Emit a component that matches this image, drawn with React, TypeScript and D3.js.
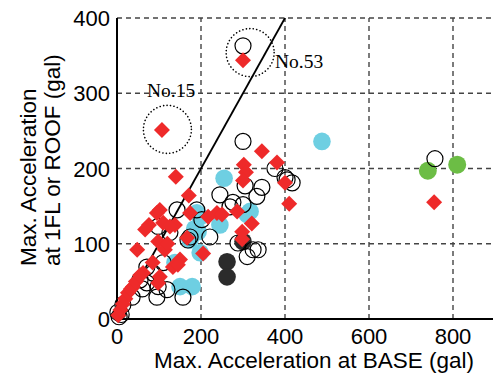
import React from "react";
import * as d3 from "d3";

const xTicks = [0, 200, 400, 600, 800];
const yTicks = [0, 100, 200, 300, 400];

const redDiamonds: [number, number][] = [
  [107, 251], [300, 344], [345, 223], [381, 208], [400, 181], [410, 153], [755, 155],
  [302, 205], [307, 195], [300, 184], [286, 143], [238, 141], [321, 127], [298, 116], [298, 106],
  [140, 189], [171, 164], [102, 145], [76, 125], [110, 128], [138, 125], [174, 141], [217, 136], [250, 139],
  [205, 87], [95, 141], [67, 119], [48, 92], [98, 103], [126, 123], [167, 108], [150, 79], [133, 69],
  [102, 56], [62, 61], [98, 48], [38, 43], [114, 92], [145, 72],
  [3, 5], [8, 12], [14, 20], [20, 27], [26, 35], [33, 40], [45, 50], [55, 58], [85, 75], [120, 100],
];

const openCircles: [number, number][] = [
  [300, 363], [300, 236], [376, 200], [405, 185], [417, 181], [345, 175], [305, 177], [245, 165],
  [269, 149], [300, 152], [336, 92], [310, 83], [757, 213], [276, 155], [333, 163], [400, 188],
  [288, 101], [324, 92], [143, 145], [98, 123], [126, 115], [174, 109], [71, 69], [86, 61], [55, 52],
  [71, 48], [98, 43], [119, 39], [157, 29], [36, 29], [14, 19], [2, 9], [169, 105], [202, 132],
  [190, 145], [221, 109], [95, 29], [60, 40], [110, 75], [5, 3], [10, 6],
];

const cyanCircles: [number, number][] = [
  [488, 236], [255, 187], [245, 125], [310, 139], [190, 141], [193, 116], [174, 105], [179, 43],
  [150, 43], [138, 75], [198, 136], [317, 143], [198, 88], [185, 120],
];

const blackCircles: [number, number][] = [[300, 103], [262, 76], [262, 56]];
const greenCircles: [number, number][] = [[740, 197], [810, 205]];

const annotations = [
  { label: "No.15", cx: 120, cy: 252, tx: 147, ty: 97 },
  { label: "No.53", cx: 317, cy: 354, tx: 275, ty: 68 },
];

export default function App() {
  const W = 493, H = 374;
  const x = d3.scaleLinear().domain([0, 900]).range([117, 495]);
  const y = d3.scaleLinear().domain([0, 400]).range([319, 18]);
  const diamond = d3.symbol().type(d3.symbolSquare).size(128)();
  const font = "'Liberation Sans', Arial, sans-serif";
  const line = d3.line<[number, number]>().x(d => x(d[0])).y(d => y(d[1]));

  return (
    <svg width={W} height={H} style={{ position: "absolute", left: 0, top: 0, background: "#fff" }}>
      {xTicks.filter(t => t > 0).map(t => (
        <line key={"gx" + t} x1={x(t)} x2={x(t)} y1={y(0)} y2={y(400)} stroke="#444" strokeWidth={1.4} strokeDasharray="5 4" />
      ))}
      {yTicks.filter(t => t > 0).map(t => (
        <line key={"gy" + t} x1={x(0)} x2={x(900)} y1={y(t)} y2={y(t)} stroke="#444" strokeWidth={1.4} strokeDasharray="5 4" />
      ))}
      <line x1={x(0)} x2={x(0)} y1={y(0) + 1} y2={y(400)} stroke="#000" strokeWidth={2} />
      <line x1={x(0)} x2={x(900)} y1={y(0)} y2={y(0)} stroke="#000" strokeWidth={2} />

      <path d={line([[0, 0], [400, 400]]) || ""} stroke="#000" strokeWidth={1.8} fill="none" />

      {cyanCircles.map((d, i) => (
        <circle key={"c" + i} cx={x(d[0])} cy={y(d[1])} r={8.8} fill="#6ecfe2" />
      ))}
      {blackCircles.map((d, i) => (
        <circle key={"b" + i} cx={x(d[0])} cy={y(d[1])} r={8.8} fill="#2b2b2b" />
      ))}
      {greenCircles.map((d, i) => (
        <circle key={"g" + i} cx={x(d[0])} cy={y(d[1])} r={9} fill="#6cbd45" />
      ))}
      {openCircles.map((d, i) => (
        <circle key={"o" + i} cx={x(d[0])} cy={y(d[1])} r={8} fill="none" stroke="#000" strokeWidth={1.2} />
      ))}
      {redDiamonds.map((d, i) => (
        <path key={"r" + i} d={diamond} transform={`translate(${x(d[0])},${y(d[1])}) rotate(45)`} fill="#ee2a2a" />
      ))}

      {annotations.map(a => (
        <g key={a.label}>
          <circle cx={x(a.cx)} cy={y(a.cy)} r={24} fill="none" stroke="#000" strokeWidth={1.6} strokeDasharray="0.1 3.4" strokeLinecap="round" />
          <text x={a.tx} y={a.ty} fontFamily="'Liberation Serif', 'Times New Roman', serif" fontSize={19.5} fill="#000">{a.label}</text>
        </g>
      ))}

      {xTicks.map(t => (
        <text key={"xt" + t} x={x(t)} y={344} textAnchor="middle" fontFamily={font} fontSize={22} fill="#000">{t}</text>
      ))}
      {yTicks.map(t => (
        <text key={"yt" + t} x={110} y={y(t) + 8} textAnchor="end" fontFamily={font} fontSize={22} fill="#000">{t}</text>
      ))}

      <text x={314} y={368} textAnchor="middle" fontFamily={font} fontSize={22.5} fill="#000">Max. Acceleration at BASE (gal)</text>
      <text transform="translate(36,266) rotate(-90)" textAnchor="start" fontFamily={font} fontSize={22.5} fill="#000">Max. Acceleration</text>
      <text transform="translate(60,266) rotate(-90)" textAnchor="start" fontFamily={font} fontSize={22.5} fill="#000">at 1FL or ROOF (gal)</text>
    </svg>
  );
}
